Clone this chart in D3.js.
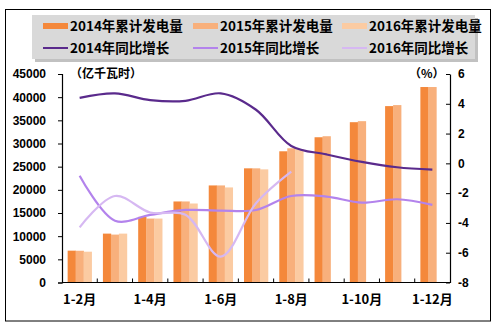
<!DOCTYPE html>
<html><head><meta charset="utf-8">
<script src="https://cdn.jsdelivr.net/npm/d3@7/dist/d3.min.js"></script>
<style>body{margin:0;background:#fff}svg{display:block}</style>
</head><body>
<script>
const categories = ["1-2月","1-3月","1-4月","1-5月","1-6月","1-7月","1-8月","1-9月","1-10月","1-11月","1-12月"];
const tickLabels = ["1-2月","1-4月","1-6月","1-8月","1-10月","1-12月"];
const gen2014 = [6870,10550,14170,17490,20950,24640,28320,31350,34600,38070,42190];
const gen2015 = [6850,10340,13800,17490,20950,24640,28970,31570,34820,38290,42190];
const gen2016 = [6650,10550,13800,17050,20520,24420,28750,null,null,null,null];
const grow2014 = [4.4,4.7,4.25,4.2,4.7,3.6,1.17,0.6,0.1,-0.26,-0.42];
const grow2015 = [-0.83,-3.85,-3.46,-3.13,-3.17,-3.13,-2.19,-2.23,-2.64,-2.41,-2.79];
const grow2016 = [-4.3,-2.19,-3.3,-3.45,-6.26,-2.68,-0.56];
const leftTicks = [0,5000,10000,15000,20000,25000,30000,35000,40000,45000];
const rightTicks = [-8,-6,-4,-2,0,2,4,6];
const barNames = ["2014年累计发电量","2015年累计发电量","2016年累计发电量"];
const lineNames = ["2014年同比增长","2015年同比增长","2016年同比增长"];

const barColors = ["#f4883b","#f8b07c","#fbcba2"];
const lineColors = ["#5a2a8c","#b383ec","#d6b8f2"];

const W=496,H=327;
const svg=d3.select("body").append("svg").attr("width",W).attr("height",H);
svg.append("rect").attr("x",5.5).attr("y",9.5).attr("width",485).attr("height",311.5)
  .attr("fill","#fff").attr("stroke","#000");

const L=62,R=450,T=74,B=282.5;
const x=d3.scaleBand().domain(categories).range([L,R]).paddingInner(0.32).paddingOuter(0.16);
const xs=d3.scaleBand().domain([0,1,2]).range([0,x.bandwidth()]);
const yL=d3.scaleLinear().domain([0,45000]).range([B,T]);
const yR=d3.scaleLinear().domain([-8,6]).range([B,T]);

// bars
[gen2014,gen2015,gen2016].forEach((arr,si)=>{
  svg.append("g").selectAll("rect").data(categories.map((c,i)=>({c,v:arr[i]})).filter(d=>d.v!=null))
   .join("rect").attr("x",d=>x(d.c)+xs(si)).attr("width",xs.bandwidth()+0.3)
   .attr("y",d=>yL(d.v)).attr("height",d=>B-yL(d.v)).attr("fill",barColors[si]);
});

// lines
const cx=c=>x(c)+x.bandwidth()/2;
[grow2014,grow2015,grow2016].forEach((arr,si)=>{
  const line=d3.line().x((d,i)=>cx(categories[i])).y(d=>yR(d)).curve(d3.curveCatmullRom.alpha(0.5));
  svg.append("path").attr("d",line(arr)).attr("fill","none").attr("stroke",lineColors[si]).attr("stroke-width",2.2);
});

// axes
const fontNum="'Liberation Sans',Arial,sans-serif";
const gl=svg.append("g").attr("transform",`translate(${L},0)`)
  .call(d3.axisLeft(yL).tickValues(leftTicks).tickSize(4).tickPadding(12).tickFormat(d3.format("d")));
const gr=svg.append("g").attr("transform",`translate(${R},0)`)
  .call(d3.axisRight(yR).tickValues(rightTicks).tickSize(0).tickPadding(8).tickFormat(d=>d));
gr.selectAll(".tick line").attr("x1",-4).attr("x2",0);
const bx=svg.append("g").attr("transform",`translate(0,${B})`)
  .call(d3.axisBottom(x).tickSize(0).tickFormat(d=>tickLabels.includes(d)?d:""));
// band boundary ticks inward
const bounds=categories.slice(1).map(c=>x(c)-x.step()*x.paddingInner()/2);
svg.append("g").selectAll("line").data(bounds).join("line")
  .attr("x1",d=>d).attr("x2",d=>d).attr("y1",B).attr("y2",B-4).attr("stroke","#000");
[gl,gr,bx].forEach(g=>{
  g.select(".domain").attr("stroke","#000").attr("stroke-width",1.2);
  g.selectAll(".tick line").attr("stroke","#000");
  g.selectAll("text").attr("font-family",fontNum).attr("font-weight","bold").attr("font-size",12).attr("fill","#000");
});
bx.select(".domain").attr("d",`M${L},0H${R}`);
bx.selectAll("text").attr("dy","1.45em").attr("font-family","'Noto Sans CJK SC',sans-serif").attr("font-size",13);

// units
svg.append("text").attr("x",70).attr("y",78).text("（亿千瓦时）")
  .attr("font-family","'Noto Sans CJK SC',sans-serif").attr("font-weight","bold").attr("font-size",12);
svg.append("text").attr("x",409).attr("y",78).text("（%）")
  .attr("font-family","'Noto Sans CJK SC',sans-serif").attr("font-weight","bold").attr("font-size",12);

// legend
svg.append("rect").attr("x",35).attr("y",18).attr("width",443).attr("height",44).attr("fill","#a6a6a6").attr("opacity",0.7);
svg.append("rect").attr("x",32).attr("y",15).attr("width",443).attr("height",44).attr("fill","#d9d9d9");
const colX=[43,193,342];
const rowY=[26,48];
barNames.forEach((n,i)=>{
  svg.append("rect").attr("x",colX[i]).attr("y",rowY[0]-3).attr("width",25).attr("height",6).attr("fill",barColors[i]);
  svg.append("text").attr("x",colX[i]+27).attr("y",rowY[0]).attr("dy","0.36em").text(n)
   .attr("font-family","'Noto Sans CJK SC',sans-serif").attr("font-weight","bold").attr("font-size",13.5);
});
lineNames.forEach((n,i)=>{
  svg.append("line").attr("x1",colX[i]).attr("x2",colX[i]+25).attr("y1",rowY[1]).attr("y2",rowY[1]).attr("stroke",lineColors[i]).attr("stroke-width",2);
  svg.append("text").attr("x",colX[i]+27).attr("y",rowY[1]).attr("dy","0.36em").text(n)
   .attr("font-family","'Noto Sans CJK SC',sans-serif").attr("font-weight","bold").attr("font-size",13.5);
});
</script>
</body></html>
